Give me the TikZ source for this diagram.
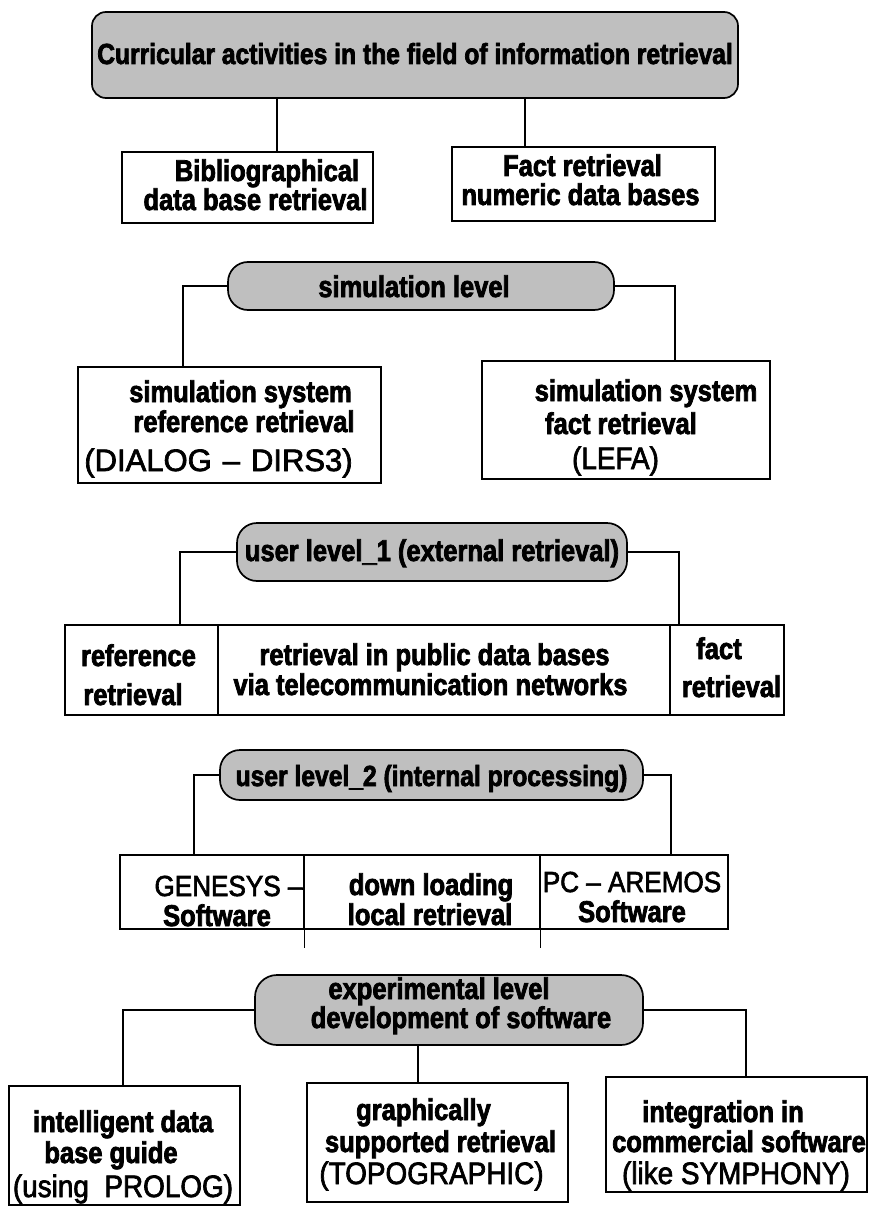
\documentclass[tikz,border=0pt]{standalone}
\usepackage{fontspec}
\setmainfont{Liberation Sans}[FakeStretch=0.85, BoldFeatures={FakeBold=2.5}]
\newfontfamily\plainfam{Liberation Sans}[FakeStretch=0.9, FakeBold=2.2]
\newfontfamily\widefam{Liberation Sans}[FakeBold=2.2]
\newcommand{\boldlbl}{\fontsize{30}{33}\bfseries\selectfont}
\newcommand{\plainlbl}{\plainfam\fontsize{31}{34}\selectfont}
\begin{document}
\begin{tikzpicture}[x=1pt,y=-1pt,
  banner/.style={draw, line width=1.7pt, fill=black!25, rounded corners=20pt, inner sep=0pt},
  box/.style={draw, line width=1.4pt, rectangle, inner sep=0pt},
  conn/.style={line width=1.1pt},
  blbl/.style={font=\boldlbl, anchor=base, inner sep=0pt},
  plbl/.style={font=\plainlbl, anchor=base, inner sep=0pt}]
\fill[white] (0,0) rectangle (869,1206);
\useasboundingbox (0,0) rectangle (869,1206);

% ---------- top level ----------
\node[banner, rounded corners=14pt, minimum width=646pt, minimum height=86pt] (b1) at (415,55) {};
\node[blbl, font=\fontsize{29}{32}\bfseries\selectfont] (t1) at (415,64) {Curricular activities in the field of information retrieval};
\node[box, minimum width=251pt, minimum height=71pt] (a) at (247.5,187.5) {};
\node[blbl] (a1) at (267,181) {Bibliographical};
\node[blbl] (a2) at (255.5,210) {data base retrieval};
\node[box, minimum width=263pt, minimum height=74pt] (bb) at (583.5,184) {};
\node[blbl] (bb1) at (582.5,176) {Fact retrieval};
\node[blbl] (bb2) at (580.5,205) {numeric data bases};
\coordinate (xa) at (277,0);
\coordinate (xb) at (525,0);
\draw[conn] (b1.south -| xa) -- (a.north -| xa);
\draw[conn] (b1.south -| xb) -- (bb.north -| xb);

% ---------- simulation level ----------
\node[banner, minimum width=386pt, minimum height=48pt] (b2) at (421,286) {};
\node[blbl] (t2) at (414,297) {simulation level};
\node[box, minimum width=303pt, minimum height=116pt] (c) at (229.5,425) {};
\node[blbl] (c1) at (240.5,402) {simulation system};
\node[blbl] (c2) at (244,432) {reference retrieval};
\node[plbl, font=\widefam\fontsize{31}{34}\selectfont] (c3) at (218.5,471) {(DIALOG\hspace{11pt}–\hspace{11pt}DIRS3)};
\node[box, minimum width=288pt, minimum height=118pt] (d) at (626,420) {};
\node[blbl] (d1) at (646,401) {simulation system};
\node[blbl] (d2) at (621,434) {fact retrieval};
\node[plbl] (d3) at (615.5,469) {(LEFA)};
\coordinate (xc) at (183,0);
\coordinate (xd) at (675,0);
\draw[conn] (b2.west) -| (c.north -| xc);
\draw[conn] (b2.east) -| (d.north -| xd);

% ---------- user level 1 ----------
\node[banner, minimum width=390pt, minimum height=58pt] (b3) at (432,552) {};
\node[blbl] (t3) at (432,561) {user level\_1 (external retrieval)};
\node[box, minimum width=153pt, minimum height=90pt] (r31) at (141.5,670) {};
\node[box, minimum width=452pt, minimum height=90pt] (r32) at (444,670) {};
\node[box, minimum width=114pt, minimum height=90pt] (r33) at (727,670) {};
\node[blbl] (r31a) at (138.5,666) {reference};
\node[blbl] (r31b) at (133,705) {retrieval};
\node[blbl] (r32a) at (434.5,665) {retrieval in public data bases};
\node[blbl] (r32b) at (430.5,695) {via telecommunication networks};
\node[blbl] (r33a) at (719,659) {fact};
\node[blbl] (r33b) at (731.5,697) {retrieval};
\coordinate (xe) at (180,0);
\coordinate (xf) at (679,0);
\draw[conn] (b3.west) -| (r31.north -| xe);
\draw[conn] (b3.east) -| (r33.north -| xf);

% ---------- user level 2 ----------
\node[banner, minimum width=423pt, minimum height=50pt] (b4) at (431.5,775) {};
\node[blbl, font=\fontsize{29}{32}\bfseries\selectfont] (t4) at (431.5,786) {user level\_2 (internal processing)};
\node[box, minimum width=184pt, minimum height=74pt] (r41) at (212,892) {};
\node[box, minimum width=236pt, minimum height=74pt] (r42) at (422,892) {};
\node[box, minimum width=188pt, minimum height=74pt] (r43) at (634,892) {};
\node[plbl, font=\plainfam\fontsize{29}{32}\selectfont] (r41a) at (228.5,896) {GENESYS –};
\node[blbl] (r41b) at (217,926) {Software};
\node[blbl] (r42a) at (431,895) {down loading};
\node[blbl] (r42b) at (430,925) {local retrieval};
\node[plbl, font=\plainfam\fontsize{29}{32}\selectfont] (r43a) at (632,892) {PC – AREMOS};
\node[blbl] (r43b) at (632,922) {Software};
\coordinate (xg) at (194,0);
\coordinate (xh) at (671,0);
\draw[conn] (b4.west) -| (r41.north -| xg);
\draw[conn] (b4.east) -| (r43.north -| xh);
\draw[conn] (r41.south east) -- ++(0,18);
\draw[conn] (r42.south east) -- ++(0,18);

% ---------- experimental level ----------
\node[banner, rounded corners=22pt, minimum width=388pt, minimum height=70pt] (b5) at (449,1010) {};
\node[blbl] (t5a) at (439,999) {experimental level};
\node[blbl] (t5b) at (461,1028) {development of software};
\node[box, minimum width=231pt, minimum height=119pt] (e) at (124.5,1145.5) {};
\node[blbl] (e1) at (123,1132) {intelligent data};
\node[blbl] (e2) at (111,1163) {base guide};
\node[plbl] (e3) at (123,1197) {(using\ \ PROLOG)};
\node[box, minimum width=261pt, minimum height=119pt] (f) at (437.5,1142.5) {};
\node[blbl] (f1) at (423.5,1120) {graphically};
\node[blbl] (f2) at (440.5,1152) {supported retrieval};
\node[plbl] (f3) at (431.5,1184) {(TOPOGRAPHIC)};
\node[box, minimum width=261pt, minimum height=115pt] (g) at (736.5,1134.5) {};
\node[blbl] (g1) at (723,1122) {integration in};
\node[blbl] (g2) at (739,1152) {commercial software};
\node[plbl] (g3) at (736,1184) {(like SYMPHONY)};
\coordinate (xi) at (123,0);
\coordinate (xj) at (418,0);
\coordinate (xk) at (746,0);
\draw[conn] (b5.west) -| (e.north -| xi);
\draw[conn] (b5.south -| xj) -- (f.north -| xj);
\draw[conn] (b5.east) -| (g.north -| xk);
\end{tikzpicture}
\end{document}
